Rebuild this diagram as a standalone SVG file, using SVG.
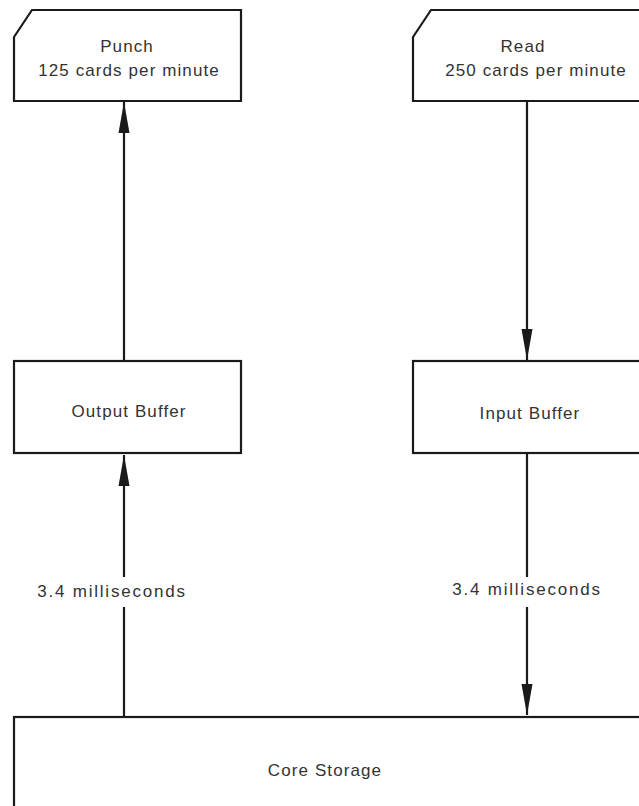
<svg xmlns="http://www.w3.org/2000/svg" width="639" height="806" viewBox="0 0 639 806">
<style>
.box{fill:#fff;stroke:#1a1a1a;stroke-width:2.2}
.t{font-family:"Liberation Sans",Arial,sans-serif;font-size:17px;fill:#333;text-anchor:middle;letter-spacing:1.1px}
.m{letter-spacing:1.8px}
.c{stroke:#1a1a1a;stroke-width:2.2;fill:none}
</style>
<defs>
<marker id="ah" markerUnits="userSpaceOnUse" markerWidth="34" markerHeight="14" refX="31" refY="7" orient="auto">
<path d="M0,1.5 L31,7 L0,12.5 z" fill="#1a1a1a"/>
</marker>
</defs>
<rect width="639" height="806" fill="#fff"/>
<g id="punch">
<polygon class="box" points="14,37 32,10 241,10 241,101 14,101"/>
<text class="t" x="127" y="52">Punch</text>
<text class="t" x="129" y="76">125 cards per minute</text>
</g>
<g id="read">
<polygon class="box" points="413,37 431,10 650,10 650,101 413,101"/>
<text class="t" x="523" y="52">Read</text>
<text class="t" x="536" y="76">250 cards per minute</text>
</g>
<g id="output-buffer">
<rect class="box" x="14" y="361" width="227" height="92"/>
<text class="t" x="129" y="417">Output Buffer</text>
</g>
<g id="input-buffer">
<rect class="box" x="413" y="361" width="237" height="92"/>
<text class="t" x="530" y="419">Input Buffer</text>
</g>
<g id="core-storage">
<rect class="box" x="14" y="717" width="640" height="100"/>
<text class="t" x="325" y="776">Core Storage</text>
</g>
<g id="connectors">
<line class="c" x1="124" y1="361" x2="124" y2="102" marker-end="url(#ah)"/>
<line class="c" x1="124" y1="577" x2="124" y2="455" marker-end="url(#ah)"/>
<line class="c" x1="124" y1="717" x2="124" y2="607"/>
<line class="c" x1="527" y1="101" x2="527" y2="360" marker-end="url(#ah)"/>
<line class="c" x1="527" y1="453" x2="527" y2="577"/>
<line class="c" x1="527" y1="607" x2="527" y2="715" marker-end="url(#ah)"/>
<text class="t m" x="112" y="597">3.4 milliseconds</text>
<text class="t m" x="527" y="595">3.4 milliseconds</text>
</g>
</svg>
